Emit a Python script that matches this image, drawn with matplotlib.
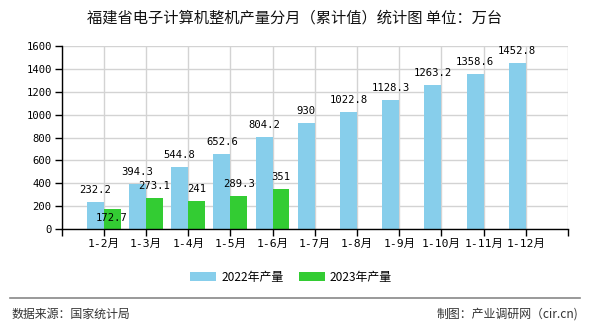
import matplotlib
matplotlib.use("Agg")
import matplotlib.pyplot as plt
from matplotlib.patches import Patch
from matplotlib.lines import Line2D

categories = ["1-2月", "1-3月", "1-4月", "1-5月", "1-6月", "1-7月", "1-8月",
              "1-9月", "1-10月", "1-11月", "1-12月"]
values_2022 = [232.2, 394.3, 544.8, 652.6, 804.2, 930, 1022.8, 1128.3, 1263.2, 1358.6, 1452.8]
values_2023 = [172.7, 273.1, 241, 289.3, 351]
labels_2022 = ["232.2", "394.3", "544.8", "652.6", "804.2", "930", "1022.8", "1128.3", "1263.2", "1358.6", "1452.8"]
labels_2023 = ["172.7", "273.1", "241", "289.3", "351"]
series_names = ["2022年产量", "2023年产量"]
yticks = [0, 200, 400, 600, 800, 1000, 1200, 1400, 1600]
title = "福建省电子计算机整机产量分月（累计值）统计图 单位：万台"
source_text = "数据来源：国家统计局"
credit_text = "制图：产业调研网（cir.cn)"

CJK = ["Noto Sans CJK SC", "DejaVu Sans"]
MONO_CJK = ["DejaVu Sans Mono", "Noto Sans CJK SC"]
plt.rcParams["font.family"] = CJK

c_blue = "#87CEEB"
c_green = "#33CC33"

fig = plt.figure(figsize=(5.9, 3.3), dpi=100)
ax = fig.add_axes([61.5 / 590, 1 - 229 / 330, (568 - 61.5) / 590, (229 - 46) / 330])

n = len(categories)
w = 0.4
xb = [i - w / 2 for i in range(n)]
xg = [i + w / 2 for i in range(len(values_2023))]
ax.bar(xb, values_2022, width=w, color=c_blue, zorder=3)
ax.bar(xg, values_2023, width=w, color=c_green, zorder=3)

for x, v, s in zip(xb, values_2022, labels_2022):
    ax.annotate(s, (x, v), xytext=(0, 12), textcoords="offset pixels",
                ha="center", va="center", fontsize=7.6, family=MONO_CJK, zorder=5)
for i, (x, v, s) in enumerate(zip(xg, values_2023, labels_2023)):
    off = 12
    if values_2022[i] - v < 100:
        off = -9
    ax.annotate(s, (x, v), xytext=(0, off), textcoords="offset pixels",
                ha="center", va="center", fontsize=7.6, family=MONO_CJK, zorder=5)

ax.set_xlim(-1, n)
ax.set_ylim(0, 1600)
ax.set_xticks(list(range(-1, n + 1)))
ax.set_xticklabels([""] + categories + [""], family=MONO_CJK, fontsize=8.2)
ax.set_yticks(yticks)
ax.set_yticklabels([str(t) for t in yticks], family=MONO_CJK, fontsize=7.6)
ax.tick_params(axis="both", direction="out", length=5, width=1, color="black", pad=2)
ax.grid(True, color="#d3d3d3", linewidth=1, zorder=0)
ax.set_axisbelow(True)
for sp in ["top", "right"]:
    ax.spines[sp].set_visible(False)
for sp in ["left", "bottom"]:
    ax.spines[sp].set_color("black")
    ax.spines[sp].set_linewidth(1)
    ax.spines[sp].set_zorder(4)

fig.text(0.5, 1 - 18 / 330, title, ha="center", va="center", fontsize=11, color="#111111")

handles = [Patch(facecolor=c_blue), Patch(facecolor=c_green)]
fig.legend(handles, series_names, loc="center", bbox_to_anchor=(291 / 590, 1 - 277 / 330),
           ncol=2, frameon=False, fontsize=8.6, handlelength=2.2, handleheight=0.7,
           handletextpad=0.4, columnspacing=1.3)

fig.add_artist(Line2D([10 / 590, 580 / 590], [1 - 298 / 330] * 2, color="#888888", linewidth=1.2))
fig.text(12 / 590, 1 - 314 / 330, source_text, ha="left", va="center", fontsize=8.6, color="#333333")
fig.text(578 / 590, 1 - 314 / 330, credit_text, ha="right", va="center", fontsize=8.6, color="#333333")

fig.savefig("out.png", dpi=100)
